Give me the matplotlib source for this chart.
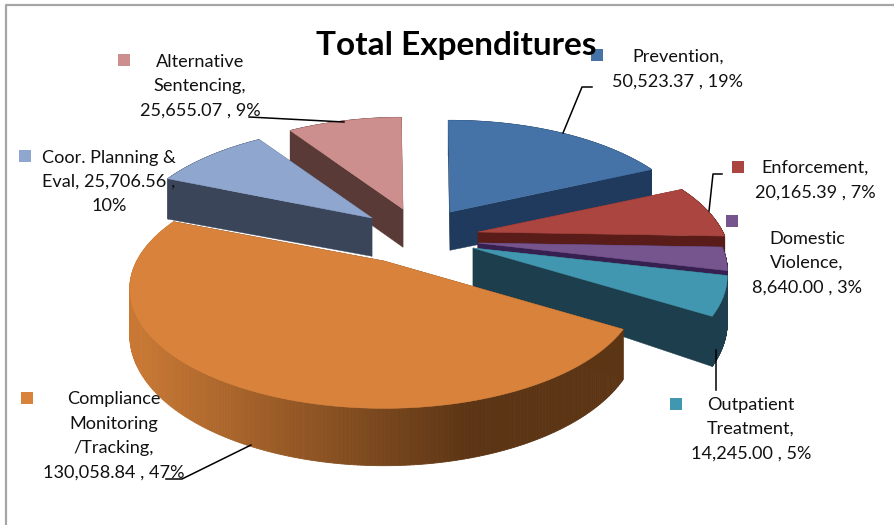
import numpy as np
import matplotlib
matplotlib.use("Agg")
import matplotlib.pyplot as plt
from matplotlib.colors import to_rgb

categories = ['Prevention', 'Enforcement', 'Domestic Violence', 'Outpatient Treatment',
              'Compliance Monitoring /Tracking', 'Coor. Planning & Eval', 'Alternative Sentencing']
values = [50523.37, 20165.39, 8640.00, 14245.00, 130058.84, 25706.56, 25655.07]
labels = ['Prevention,\n50,523.37 , 19%',
          'Enforcement,\n20,165.39 , 7%',
          'Domestic\nViolence,\n8,640.00 , 3%',
          'Outpatient\nTreatment,\n14,245.00 , 5%',
          'Compliance\nMonitoring\n/Tracking,\n130,058.84 , 47%',
          'Coor. Planning &\nEval, 25,706.56 ,\n10%',
          'Alternative\nSentencing,\n25,655.07 , 9%']

top_colors = ['#4573A8', '#AA4540', '#76558F', '#4297B0', '#D8823B', '#8FA7CF', '#CD8F8D']
wall_colors = ['#1F3A5C', '#5A1C18', '#35204F', '#1D3F4D', '#5C3515', '#3B4559', '#5A3A37']
apexes = [(450, 212), (478, 232), (478, 243), (473, 248), (384, 261), (372, 218), (403, 209)]
width_scale = [1.01, 1.02, 1.01, 1.03, 1.03, 1.0, 1.0]
label_pos = [(678, 69), (815, 180), (807, 263), (751, 429), (114, 436), (109, 182), (200, 86)]
marker_pos = [(597, 55), (738, 167), (732, 221), (676, 404), (27, 398), (25, 156), (124, 60)]

# perspective of the flattened disc, in pixels
R, RY, K, DEPTH = 240, 113, 0.233, 44
START = np.radians(-0.5)


def project(theta, apex, scale, lift=0.0):
    u, v = np.sin(theta), np.cos(theta)
    s = 1 / (1 + K * v)
    return apex[0] + R * scale * u * s, apex[1] - RY * v * s + lift * DEPTH * s


def wall_shade(x, base):
    # orange rim goes dark from left to right, others stay flat
    t = np.clip((x - 140) / 330, 0, 1)
    a = np.array(to_rgb('#C87834'))
    b = np.array(to_rgb(base))
    return tuple(a + (b - a) * t)


fig = plt.figure(figsize=(8.94, 5.25), dpi=100)
ax = fig.add_axes([0, 0, 1, 1])
ax.set_xlim(0, 894)
ax.set_ylim(525, 0)
ax.axis('off')
plt.rcParams['font.family'] = ['Lato', 'DejaVu Sans']

ax.plot([5.5, 5.5, 894], [525, 4.5, 4.5], color='#A6A6A6', lw=1.6, zorder=1)

edges = START + np.radians(np.concatenate([[0], np.cumsum(values)]) / np.sum(values) * 360)
mids = (edges[:-1] + edges[1:]) / 2
order = np.argsort(-np.cos(mids))

z = 2
for i in order:
    apex = apexes[i]
    t = np.linspace(edges[i], edges[i + 1], 240)
    x_top, y_top = project(t, apex, width_scale[i])
    x_low, y_low = project(t, apex, width_scale[i], 1.0)

    # the two flat cut faces
    for edge in (0, -1):
        ax.fill([apex[0], x_top[edge], x_low[edge], apex[0]],
                [apex[1], y_top[edge], y_low[edge], apex[1] + DEPTH * 0.87],
                color=wall_colors[i], lw=0.3, zorder=z)
    z += 1

    # rim
    for j in range(len(t) - 1):
        color = wall_colors[i]
        if categories[i].startswith('Compliance'):
            color = wall_shade(x_top[j], wall_colors[i])
        ax.fill([x_top[j], x_top[j + 1], x_low[j + 1], x_low[j]],
                [y_top[j], y_top[j + 1], y_low[j + 1], y_low[j]],
                color=color, lw=0.6, zorder=z)
    z += 1

    ax.fill(np.r_[apex[0], x_top], np.r_[apex[1], y_top], color=top_colors[i], lw=0.4, zorder=z)
    z += 1

leaders = [[(563, 133), (582, 87), (592, 87)],
           [(709, 211), (713, 174), (722, 174)],
           [(716, 350), (716, 390)],
           [(251, 445), (182, 479), (166, 479)],
           [(344, 122), (249, 117)]]
for pts in leaders:
    xs, ys = zip(*pts)
    ax.plot(xs, ys, color='black', lw=1.1, zorder=z)
z += 1

for i in range(len(categories)):
    ax.scatter(*marker_pos[i], marker='s', s=75, color=top_colors[i], lw=0, zorder=z)
    ax.text(*label_pos[i], labels[i], ha='center', va='center', fontsize=13.1,
            linespacing=1.65, color='#111111', zorder=z)

ax.text(456, 45, 'Total Expenditures', ha='center', va='center', fontsize=24,
        fontweight='bold', color='black', zorder=z)

fig.savefig('out.png', dpi=100)
